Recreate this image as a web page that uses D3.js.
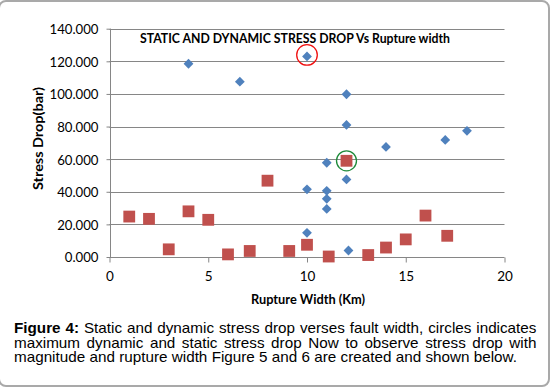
<!DOCTYPE html>
<html><head><meta charset="utf-8">
<script src="https://cdn.jsdelivr.net/npm/d3@7"></script>
<style>html,body{margin:0;padding:0;background:#fff;}svg{display:block;}</style>
</head><body>
<svg id="c" width="550" height="388"></svg>
<script>
// ---- data ----
const dynamicX = [4, 6.6, 10, 12, 12, 14, 17, 18.1, 11, 12, 10, 11, 11, 11, 10, 12.1];
const dynamicY = [118.5, 107.5, 123, 99.8, 81, 67.5, 71.8, 77.4, 57.8, 47.6, 41.5, 40.6, 35.7, 29.5, 14.8, 4];
const staticX = [1, 2, 3, 4, 5, 6, 7.1, 8, 9.1, 10, 11.1, 12, 13.1, 14, 15, 16, 17.1];
const staticY = [24.8, 23.4, 4.7, 28, 22.8, 1.6, 3.7, 46.8, 3.7, 7.5, 0.3, 59, 1.2, 5.8, 10.8, 25.4, 13];
const xTicks = [0, 5, 10, 15, 20];
const yTicks = [0, 20, 40, 60, 80, 100, 120, 140];
const maxDynamicIndex = 2;   // circled red
const maxStaticIndex = 11;   // circled green
const chartTitle = "STATIC AND DYNAMIC STRESS DROP Vs Rupture width";
const xTitle = "Rupture Width (Km)";
const yTitle = "Stress Drop(bar)";
const captionBold = ["Figure", "4:"];
const captionLines = [
  "Static and dynamic stress drop verses fault width, circles indicates",
  "maximum dynamic and static stress drop Now to observe stress drop with",
  "magnitude and rupture width Figure 5 and 6 are created and shown below."
];

const svg = d3.select("#c");
const chartFont = "Lato, 'Open Sans', sans-serif";

// outer frame
svg.append("rect").attr("x", -1).attr("y", 1).attr("width", 550).attr("height", 385)
  .attr("rx", 7).attr("fill", "none").attr("stroke", "#a9a9a9").attr("stroke-width", 2);

const x = d3.scaleLinear().domain([0, 20]).range([109.5, 504.5]);
const y = d3.scaleLinear().domain([0, 140]).range([257, 28.7]);

// gridlines
svg.append("g").selectAll("line").data(yTicks.filter(d => d > 0)).join("line")
  .attr("x1", x(0)).attr("x2", x(20)).attr("y1", d => Math.round(y(d)) + 0.5).attr("y2", d => Math.round(y(d)) + 0.5)
  .attr("stroke", "#868686").attr("stroke-width", 1);

// y axis
const yAxis = svg.append("g").attr("transform", `translate(${Math.round(x(0)) + 0.5},0)`)
  .call(d3.axisLeft(y).tickValues(yTicks).tickFormat(d3.format(".3f")).tickSize(4).tickPadding(8));
yAxis.select(".domain").attr("stroke", "#868686").attr("d", `M0,${y(140)}V${y(0)}`);
yAxis.selectAll(".tick line").attr("stroke", "#868686");
const yt = yAxis.selectAll(".tick text").attr("font-family", chartFont).attr("font-size", 13.5).attr("fill", "#000").attr("dy", "0.36em");
// widen tick labels to match the reference's wider digits
let refW = 0;
yt.each(function (d) { if (d === 140) refW = this.getComputedTextLength(); });
const kY = 49 / refW;
yt.each(function () { const w = this.getComputedTextLength(); d3.select(this).attr("textLength", w * kY).attr("lengthAdjust", "spacingAndGlyphs"); });

// x axis
const xAxis = svg.append("g").attr("transform", `translate(0,${Math.round(y(0)) + 0.5})`)
  .call(d3.axisBottom(x).tickValues(xTicks).tickFormat(d3.format("d")).tickSize(5).tickPadding(9));
xAxis.select(".domain").attr("stroke", "#868686").attr("d", `M${x(0)},0H${x(20)}`);
xAxis.selectAll(".tick line").attr("stroke", "#868686");
xAxis.selectAll(".tick text").attr("font-family", chartFont).attr("font-size", 13.5).attr("fill", "#000");

// static squares
const sq = 11.8;
svg.append("g").selectAll("rect").data(staticX.map((v, i) => [v, staticY[i]])).join("rect")
  .attr("x", d => x(d[0]) - sq / 2).attr("y", d => y(d[1]) - sq / 2)
  .attr("width", sq).attr("height", sq).attr("fill", "#C0504D");

// dynamic diamonds
const dm = 4.9;
svg.append("g").selectAll("path").data(dynamicX.map((v, i) => [v, dynamicY[i]])).join("path")
  .attr("d", d => `M${x(d[0])},${y(d[1]) - dm}L${x(d[0]) + dm},${y(d[1])}L${x(d[0])},${y(d[1]) + dm}L${x(d[0]) - dm},${y(d[1])}Z`)
  .attr("fill", "#4F81BD");

// highlight circles
svg.append("circle").attr("cx", x(dynamicX[maxDynamicIndex])).attr("cy", y(dynamicY[maxDynamicIndex]) - 1.5)
  .attr("r", 10.3).attr("fill", "none").attr("stroke", "#F01010").attr("stroke-width", 1.3);
svg.append("circle").attr("cx", x(staticX[maxStaticIndex])).attr("cy", y(staticY[maxStaticIndex]))
  .attr("r", 10).attr("fill", "none").attr("stroke", "#1E8A3A").attr("stroke-width", 1.3);

// titles
svg.append("text").attr("x", 140).attr("y", 43).attr("font-family", chartFont).attr("font-weight", "bold")
  .attr("font-size", 12.5).attr("textLength", 310).attr("lengthAdjust", "spacingAndGlyphs").attr("fill", "#000").text(chartTitle);
svg.append("text").attr("x", 251).attr("y", 303.5).attr("font-family", chartFont)
  .attr("font-weight", "bold").attr("font-size", 13).attr("textLength", 114).attr("lengthAdjust", "spacingAndGlyphs")
  .attr("fill", "#000").text(xTitle);
svg.append("text").attr("transform", "translate(42.5,190) rotate(-90)")
  .attr("font-family", chartFont).attr("font-weight", "bold").attr("font-size", 13).attr("textLength", 103)
  .attr("lengthAdjust", "spacingAndGlyphs").attr("fill", "#000").text(yTitle);

// caption (justified, slightly stretched horizontally like the reference)
const capFont = "'Liberation Sans', Arial, sans-serif";
const capSize = 14;
const left = 14, right = 536.5;
const lastLineWidth = 503;
const baselines = [333, 347.5, 362];
const cap = svg.append("g").attr("font-family", capFont).attr("font-size", capSize).attr("fill", "#000");
function measure(str, bold) {
  const t = cap.append("text").attr("font-weight", bold ? "bold" : "normal").text(str);
  const w = t.node().getComputedTextLength(); t.remove(); return w;
}
const spaceW = measure("a a", false) - measure("aa", false);
const lineWords = captionLines.map((line, li) => {
  const words = line.split(" ").map(w => ({ w, bold: false }));
  if (li === 0) words.unshift(...captionBold.map(w => ({ w, bold: true })));
  words.forEach(o => o.width = measure(o.w, o.bold));
  return words;
});
const last = lineWords[lineWords.length - 1];
const sx = lastLineWidth / (d3.sum(last, o => o.width) + spaceW * (last.length - 1));
lineWords.forEach((words, li) => {
  const total = d3.sum(words, o => o.width) * sx;
  const justify = li < lineWords.length - 1;
  const gap = justify ? (right - left - total) / (words.length - 1) : spaceW * sx;
  let cx = left;
  words.forEach(o => {
    cap.append("text").attr("transform", `translate(${cx},${baselines[li]}) scale(${sx},1)`)
      .attr("font-weight", o.bold ? "bold" : "normal").text(o.w);
    cx += o.width * sx + gap;
  });
});
</script>
</body></html>
